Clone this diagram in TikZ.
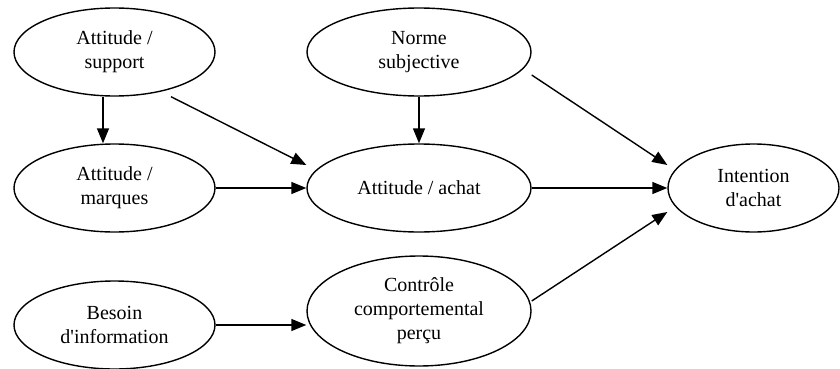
\documentclass[tikz,border=0pt]{standalone}
\usepackage{fontspec}
\setmainfont{Liberation Serif}
\usetikzlibrary{shapes.geometric,arrows.meta,positioning}
\begin{document}
\begin{tikzpicture}
            [x=1pt, y=1pt, node distance=136pt,
             main node/.style={ellipse,draw,line width=1.4pt,inner sep=0pt,align=center,
               minimum width=201pt,minimum height=88pt,font=\fontsize{20}{24}\selectfont},
             wide node/.style={main node,minimum width=224pt},
             link/.style={-{Triangle[length=15pt,width=12pt]},line width=1.4pt}]
            \useasboundingbox (0,0) rectangle (840,-369);
            \node[main node] (sup) at (114.5,-52) {Attitude /\\support};
            \node[main node, below of=sup] (mar) {Attitude /\\marques};
            \node[main node, below of=mar, yshift=-1pt] (bes) {Besoin\\d\textquotesingle information};
            \node[wide node, node distance=304.5pt, right of=sup] (nor) {Norme\\subjective};
            \node[wide node, below of=nor] (ach) {Attitude / achat};
            \node[wide node, minimum height=110pt, node distance=123pt, below of=ach] (con) {Contrôle\\comportemental\\perçu};
            \node[main node, minimum width=171pt, node distance=334.5pt, right of=ach] (int) {Intention\\d\textquotesingle achat};

            \draw[link] ([xshift=-11.5pt]sup.south) -- ([xshift=-11.5pt]mar.north);
            \draw[link] ([xshift=56.5pt]sup.south) -- ([yshift=23pt]ach.west);
            \draw[link] (mar) -- (ach);
            \draw[link] (nor) -- (ach);

            \draw[link] ([yshift=-23pt]nor.east) -- ([yshift=23pt]int.west);
            \draw[link] (ach) -- (int);

            \draw[link] (bes.east) -- (bes.east -| con.west);
            \draw[link] ([yshift=10pt]con.east) -- ([yshift=-24pt]int.west);
         \end{tikzpicture}
\end{document}
